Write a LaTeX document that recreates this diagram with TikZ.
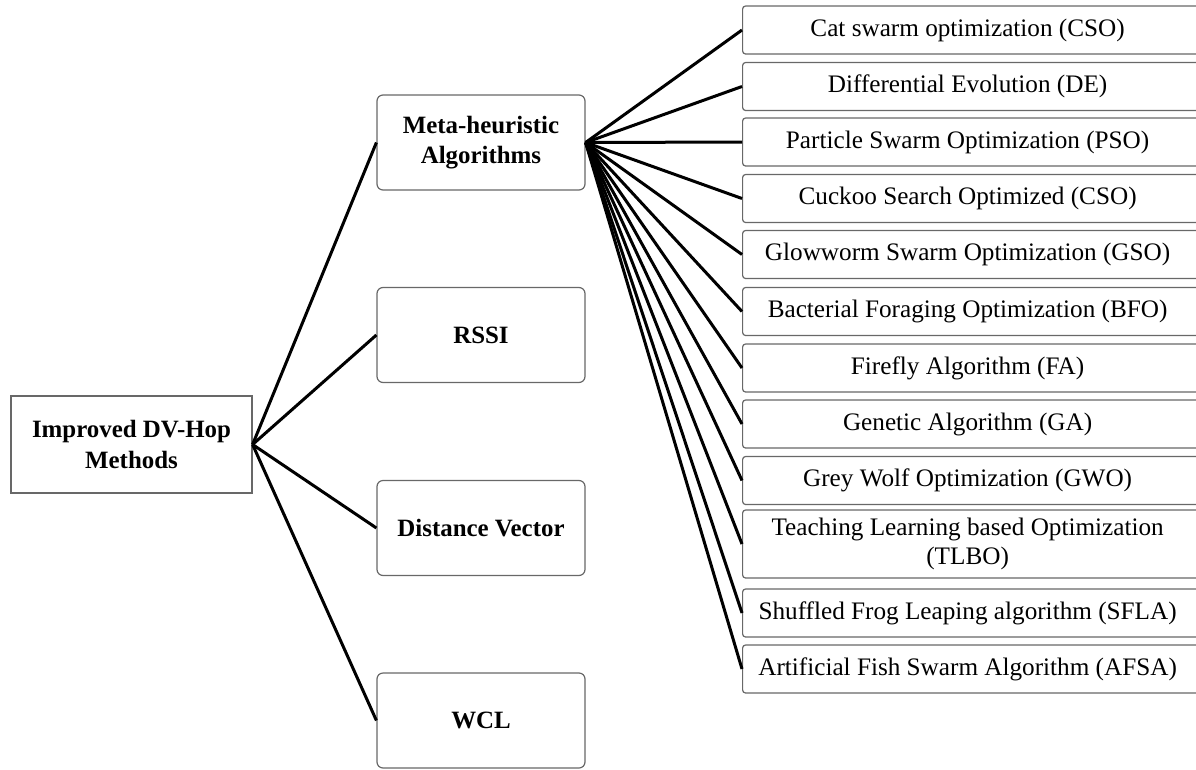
\documentclass[tikz,border=0pt]{standalone}
\usepackage{fontspec}
\setmainfont{Liberation Serif}
\definecolor{boxgray}{HTML}{686868}
\begin{document}
\begin{tikzpicture}[x=1pt,y=-1pt,
  basebox/.style={draw=boxgray, line width=1.2pt, fill=white, inner sep=0pt, align=center},
  rootbox/.style={basebox, minimum width=241pt, minimum height=97pt,
    font=\fontsize{24.9}{31}\selectfont\bfseries},
  midbox/.style={basebox, rounded corners=6pt, minimum width=208pt, minimum height=95pt,
    font=\fontsize{24.9}{30}\selectfont\bfseries},
  rbox/.style={basebox, rounded corners=3pt, minimum width=462pt, minimum height=48pt, anchor=west},
  rtext/.style={font=\fontsize{25.2}{29}\selectfont, align=center, xshift=-6pt},
  conn/.style={line width=3pt, black}
]
\useasboundingbox (0,0) rectangle (1196,769);

% root
\node[rootbox] (root) at (131.5,444.5) {Improved DV-Hop\\Methods};

% middle
\node[midbox] (meta) at (481,142.5) {Meta-heuristic\\Algorithms};
\node[midbox] (rssi) at (481,335) {RSSI};
\node[midbox] (dv)   at (481,528) {Distance Vector};
\node[midbox] (wcl)  at (481,720.5) {WCL};

% right
\node[rbox, label={[rtext]center:{Cat swarm optimization (CSO)}}] (r1) at (742,30) {};
\node[rbox, label={[rtext]center:{Differential Evolution (DE)}}] (r2) at (742,86.5) {};
\node[rbox, label={[rtext]center:{Particle Swarm Optimization (PSO)}}] (r3) at (742,142) {};
\node[rbox, label={[rtext]center:{Cuckoo Search Optimized (CSO)}}] (r4) at (742,198.5) {};
\node[rbox, label={[rtext]center:{Glowworm Swarm Optimization (GSO)}}] (r5) at (742,254.5) {};
\node[rbox, label={[rtext]center:{Bacterial Foraging Optimization (BFO)}}] (r6) at (742,311.5) {};
\node[rbox, label={[rtext]center:{Firefly Algorithm (FA)}}] (r7) at (742,368) {};
\node[rbox, label={[rtext]center:{Genetic Algorithm (GA)}}] (r8) at (742,424) {};
\node[rbox, label={[rtext]center:{Grey Wolf Optimization (GWO)}}] (r9) at (742,480.5) {};
\node[rbox, minimum height=68pt, label={[rtext]center:{Teaching Learning based Optimization\\(TLBO)}}] (r10) at (742,544) {};
\node[rbox, label={[rtext]center:{Shuffled Frog Leaping algorithm (SFLA)}}] (r11) at (742,613) {};
\node[rbox, label={[rtext]center:{Artificial Fish Swarm Algorithm (AFSA)}}] (r12) at (742,669) {};

% connectors
\foreach \m in {meta,rssi,dv,wcl}
  \draw[conn] (root.east) -- (\m.west);
\foreach \i in {1,...,12}
  \draw[conn] (meta.east) -- (r\i.west);
\end{tikzpicture}
\end{document}
